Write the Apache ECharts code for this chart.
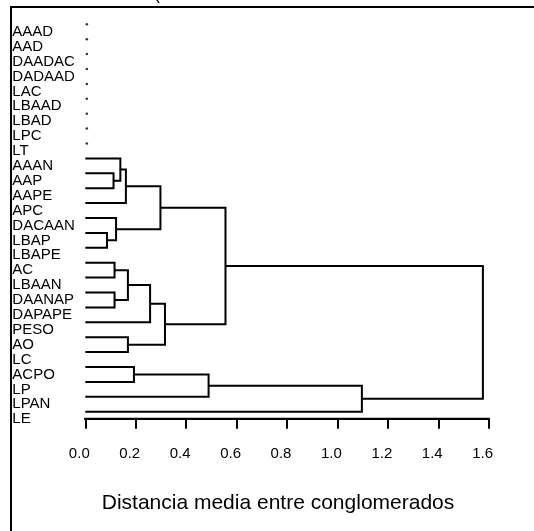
<!DOCTYPE html>
<html>
<head>
<meta charset="utf-8">
<title>Dendrograma</title>
<script src="https://cdn.jsdelivr.net/npm/echarts@6/dist/echarts.min.js"></script>
<style>
  html, body { margin: 0; padding: 0; background: #fff; }
  #main { width: 534px; height: 531px; }
</style>
</head>
<body>
<div id="main"></div>
<script>
// hojas del dendrograma, en el orden del dibujo (de arriba a abajo)
var leaves = ['AAAD', 'AAD', 'DAADAC', 'DADAAD', 'LAC', 'LBAAD', 'LBAD', 'LPC', 'LT',
  'AAAN', 'AAP', 'AAPE', 'APC', 'DACAAN', 'LBAP', 'LBAPE', 'AC', 'LBAAN', 'DAANAP',
  'DAPAPE', 'PESO', 'AO', 'LC', 'ACPO', 'LP', 'LPAN', 'LE'];

// hojas que no se unen a nada (solo un punto)
var unjoined = ['AAAD', 'AAD', 'DAADAC', 'DADAAD', 'LAC', 'LBAAD', 'LBAD', 'LPC', 'LT'];

// uniones: '#k' = resultado de la union k (empezando en 1)
var mergeA = ['AAP', 'AAAN', '#2', 'LBAP', 'DACAAN', '#3', 'AC', 'DAANAP', '#7', '#9',
  'AO', '#10', '#6', 'ACPO', '#14', '#15', '#13'];
var mergeB = ['AAPE', '#1', 'APC', 'LBAPE', '#4', '#5', 'LBAAN', 'DAPAPE', '#8', 'PESO',
  'LC', '#11', '#12', 'LP', 'LPAN', 'LE', '#16'];
var mergeHeight = [0.112, 0.139, 0.161, 0.086, 0.122, 0.298, 0.116, 0.116, 0.169, 0.257,
  0.169, 0.316, 0.556, 0.193, 0.489, 1.097, 1.577];

var xMin = 0, xMax = 1.6, xStep = 0.2;

var font = 'Liberation Sans, Arial, Helvetica, sans-serif';

// posicion de cada nodo (x = altura, y = indice de fila)
var nodes = [];
function nodeOf(key) {
  if (key.charAt(0) === '#') return nodes[parseInt(key.slice(1), 10) - 1];
  return { x: 0, y: leaves.indexOf(key) };
}
var segs = [];
for (var k = 0; k < mergeHeight.length; k++) {
  var a = nodeOf(mergeA[k]);
  var b = nodeOf(mergeB[k]);
  var h = mergeHeight[k];
  nodes.push({ x: h, y: (a.y + b.y) / 2 });
  segs.push([a.x, a.y, h, a.y, h, b.y, b.x, b.y]);
}

var dots = unjoined.map(function (n) { return [0.006, leaves.indexOf(n)]; });

// el eje x queda medio renglon por debajo de la ultima hoja
var yMax = leaves.length - 1 + 0.47;
var rowPx = 387.4 / (leaves.length - 1);

var chart = echarts.init(document.getElementById('main'));

var option = {
  animation: false,
  backgroundColor: '#fff',
  grid: { left: 85.3, width: 403.4, top: 24.3, height: rowPx * yMax },
  xAxis: {
    type: 'value',
    min: xMin,
    max: xMax,
    interval: xStep,
    axisLine: { show: true, onZero: false, lineStyle: { color: '#000', width: 2 } },
    axisTick: { show: true, length: 10, lineStyle: { color: '#000', width: 2 } },
    splitLine: { show: false },
    axisLabel: {
      margin: 28,
      color: '#000',
      fontSize: 15,
      fontFamily: font,
      padding: [0, 12, 0, 0],
      formatter: function (v) { return v.toFixed(1); }
    },
    name: 'Distancia media entre conglomerados',
    nameLocation: 'middle',
    nameGap: 74,
    nameTextStyle: { color: '#000', fontSize: 21, fontFamily: font, padding: [0, 18, 0, 0] }
  },
  yAxis: {
    type: 'value',
    inverse: true,
    min: 0,
    max: yMax,
    interval: 1,
    axisLine: { show: false },
    axisTick: { show: false },
    splitLine: { show: false },
    axisLabel: {
      margin: 73,
      align: 'left',
      verticalAlign: 'top',
      color: '#000',
      fontSize: 15,
      fontFamily: font,
      formatter: function (v) { return leaves[v] || ''; }
    }
  },
  series: [
    {
      type: 'custom',
      clip: false,
      data: segs,
      encode: { x: [0, 2, 4, 6], y: [1, 3, 5, 7] },
      renderItem: function (params, api) {
        var pts = [];
        for (var i = 0; i < 4; i++) {
          pts.push(api.coord([api.value(i * 2), api.value(i * 2 + 1)]));
        }
        return {
          type: 'polyline',
          shape: { points: pts },
          style: { stroke: '#000', lineWidth: 2, fill: null }
        };
      }
    },
    {
      // linea base del eje (0.0 a 1.6), como rectangulo relleno
      type: 'custom',
      clip: false,
      silent: true,
      z: 10,
      data: [[xMin, yMax, xMax, yMax]],
      renderItem: function (params, api) {
        var p0 = api.coord([api.value(0), api.value(1)]);
        var p1 = api.coord([api.value(2), api.value(3)]);
        return {
          type: 'rect',
          shape: { x: p0[0] - 1, y: p0[1] - 1, width: p1[0] - p0[0] + 2, height: 2 },
          style: { fill: '#000' }
        };
      }
    },
    {
      type: 'scatter',
      data: dots,
      symbol: 'circle',
      symbolSize: 2.5,
      itemStyle: { color: '#000' }
    }
  ],
  graphic: [
    { type: 'line', shape: { x1: 10, y1: 7, x2: 534, y2: 7 }, style: { stroke: '#000', lineWidth: 2 } },
    { type: 'line', shape: { x1: 11, y1: 6, x2: 11, y2: 531 }, style: { stroke: '#000', lineWidth: 2 } },
    { type: 'text', left: 154, top: -15, style: { text: '(', fontSize: 18, fontFamily: font, fill: '#000' } }
  ]
};

chart.setOption(option);
</script>
</body>
</html>
